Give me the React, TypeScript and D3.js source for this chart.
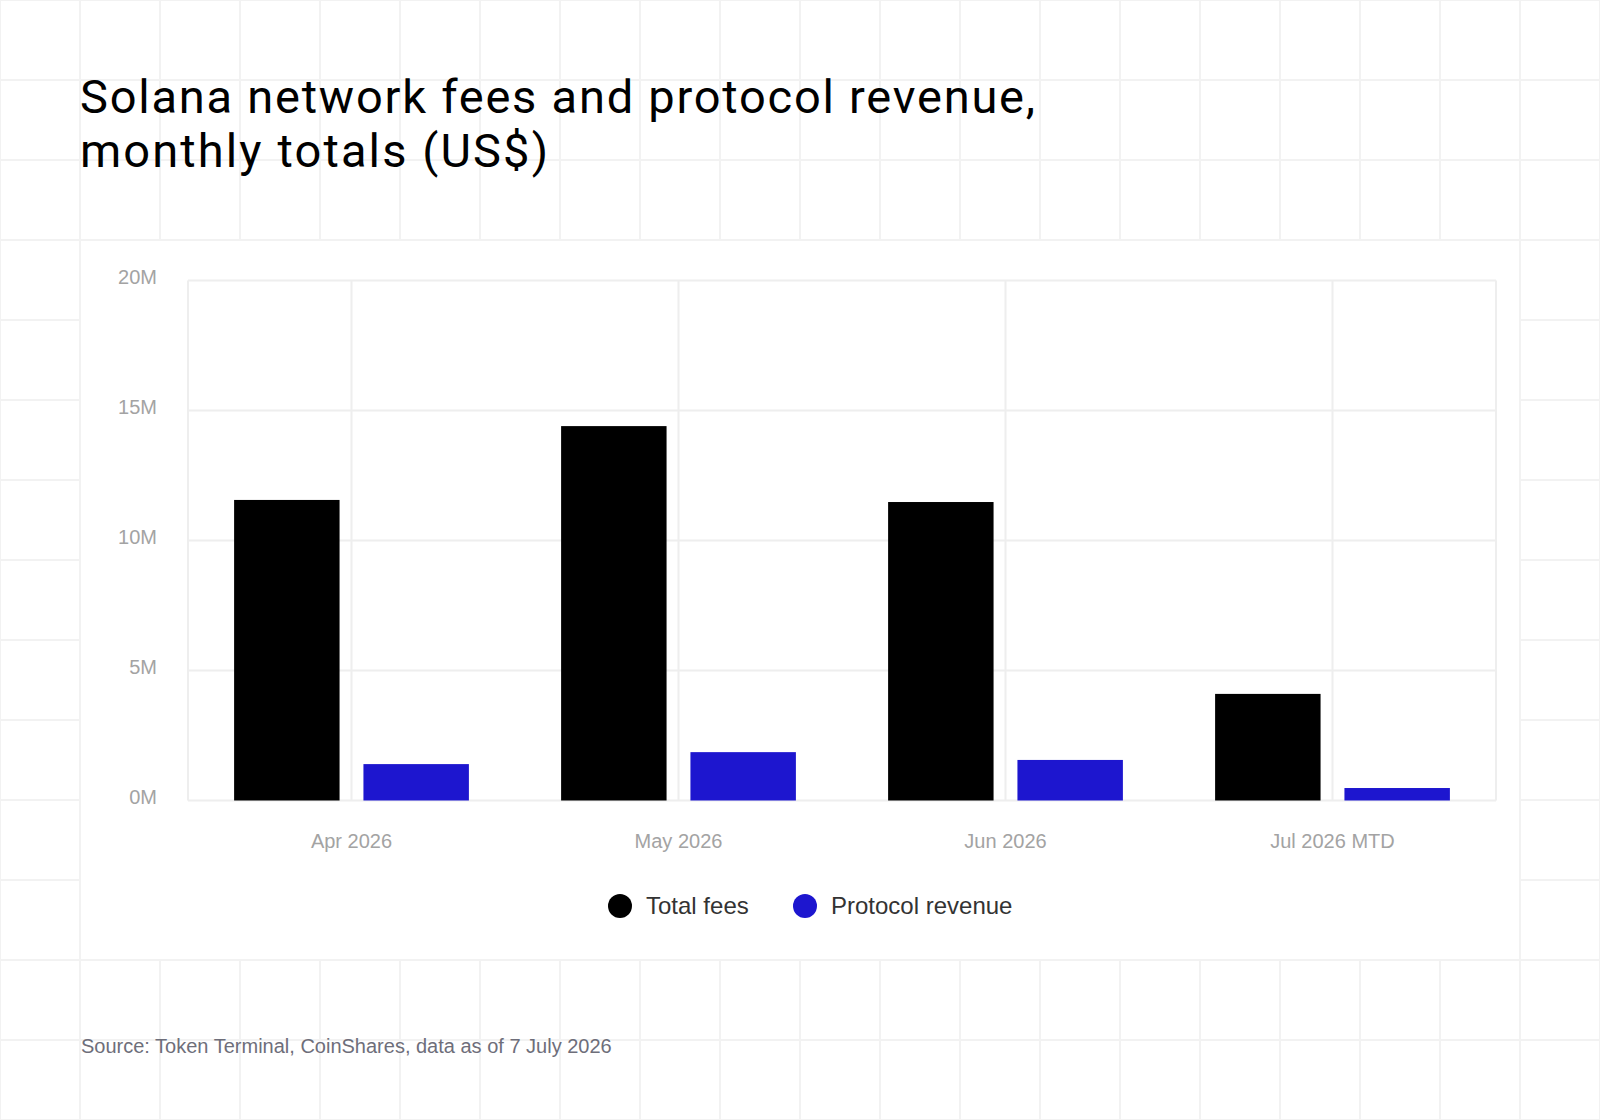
import React, { useEffect } from "react";
import * as d3 from "d3";

const months = ["Apr 2026", "May 2026", "Jun 2026", "Jul 2026 MTD"];
const totalFees = [11.56e6, 14.4e6, 11.48e6, 4.1e6];
const protocolRevenue = [1.4e6, 1.86e6, 1.56e6, 0.48e6];
const seriesNames = ["Total fees", "Protocol revenue"];
const seriesColors = ["#000000", "#1d16cf"];
const yTicks = [0, 5e6, 10e6, 15e6, 20e6];

const W = 1600;
const H = 1120;

const App: React.FC = () => {
  useEffect(() => {
    document.body.style.margin = "0"; // no default gap
  }, []);

  const plot = { left: 188, right: 1496, top: 280.5, bottom: 800.5 };

  const y = d3.scaleLinear().domain([0, 20e6]).range([plot.bottom, plot.top]);
  const x0 = d3.scaleBand<string>().domain(months).range([plot.left, plot.right]);
  const bw = x0.bandwidth();
  const x1 = d3
    .scaleBand<string>()
    .domain(seriesNames)
    .range([bw * 0.141, bw * 0.859])
    .paddingInner(0.1846);

  const values = [totalFees, protocolRevenue];

  const gridXs = d3.range(0, W + 1, 80);
  const gridYs = d3.range(0, H + 1, 80);
  const vLines = [plot.left, ...months.map((m) => (x0(m) ?? 0) + bw / 2), plot.right];

  const fmt = (v: number) => `${v / 1e6}M`;
  const axisFont = "'Liberation Sans', Arial, sans-serif";

  return (
    <svg width={W} height={H} style={{ display: "block", background: "#fff" }}>
      {/* background grid */}
      <g stroke="#f2f2f2" strokeWidth={2}>
        {gridXs.map((gx) => (
          <line key={"gx" + gx} x1={gx} x2={gx} y1={0} y2={H} />
        ))}
        {gridYs.map((gy) => (
          <line key={"gy" + gy} x1={0} x2={W} y1={gy} y2={gy} />
        ))}
      </g>
      <rect x={81} y={241} width={1438} height={718} fill="#fff" />

      {/* title */}
      <g fontFamily="Roboto, 'Noto Sans', sans-serif" fontSize={47} fill="#000">
        <text x={80} y={113} textLength={955} lengthAdjust="spacing">
          Solana network fees and protocol revenue,
        </text>
        <text x={80} y={167} textLength={468} lengthAdjust="spacing">
          monthly totals (US$)
        </text>
      </g>

      {/* plot grid */}
      <g stroke="#eeeeee" strokeWidth={2}>
        {yTicks.map((t) => (
          <line key={"yt" + t} x1={plot.left} x2={plot.right} y1={y(t)} y2={y(t)} />
        ))}
        {vLines.map((vx, i) => (
          <line key={"vl" + i} x1={vx} x2={vx} y1={plot.top} y2={plot.bottom} />
        ))}
      </g>

      {/* y labels */}
      <g fontFamily={axisFont} fontSize={20} fill="#a3a3a3" textAnchor="end">
        {yTicks.map((t) => (
          <text key={"yl" + t} x={157} y={y(t) + 3}>
            {fmt(t)}
          </text>
        ))}
      </g>

      {/* bars */}
      {months.map((m, i) => (
        <g key={m} transform={`translate(${x0(m)},0)`}>
          {seriesNames.map((s, j) => (
            <rect
              key={s}
              x={x1(s)}
              y={y(values[j][i])}
              width={x1.bandwidth()}
              height={plot.bottom - y(values[j][i])}
              fill={seriesColors[j]}
            />
          ))}
        </g>
      ))}

      {/* x labels */}
      <g fontFamily={axisFont} fontSize={20} fill="#a3a3a3" textAnchor="middle">
        {months.map((m) => (
          <text key={"xl" + m} x={(x0(m) ?? 0) + bw / 2} y={848}>
            {m}
          </text>
        ))}
      </g>

      {/* legend */}
      <g fontFamily={axisFont} fontSize={24} fill="#333">
        <circle cx={620} cy={906} r={12} fill={seriesColors[0]} />
        <text x={646} y={914}>{seriesNames[0]}</text>
        <circle cx={805} cy={906} r={12} fill={seriesColors[1]} />
        <text x={831} y={914}>{seriesNames[1]}</text>
      </g>

      {/* source */}
      <text x={81} y={1053} fontFamily={axisFont} fontSize={20} fill="#6e6e7a">
        Source: Token Terminal, CoinShares, data as of 7 July 2026
      </text>
    </svg>
  );
};

export default App;
